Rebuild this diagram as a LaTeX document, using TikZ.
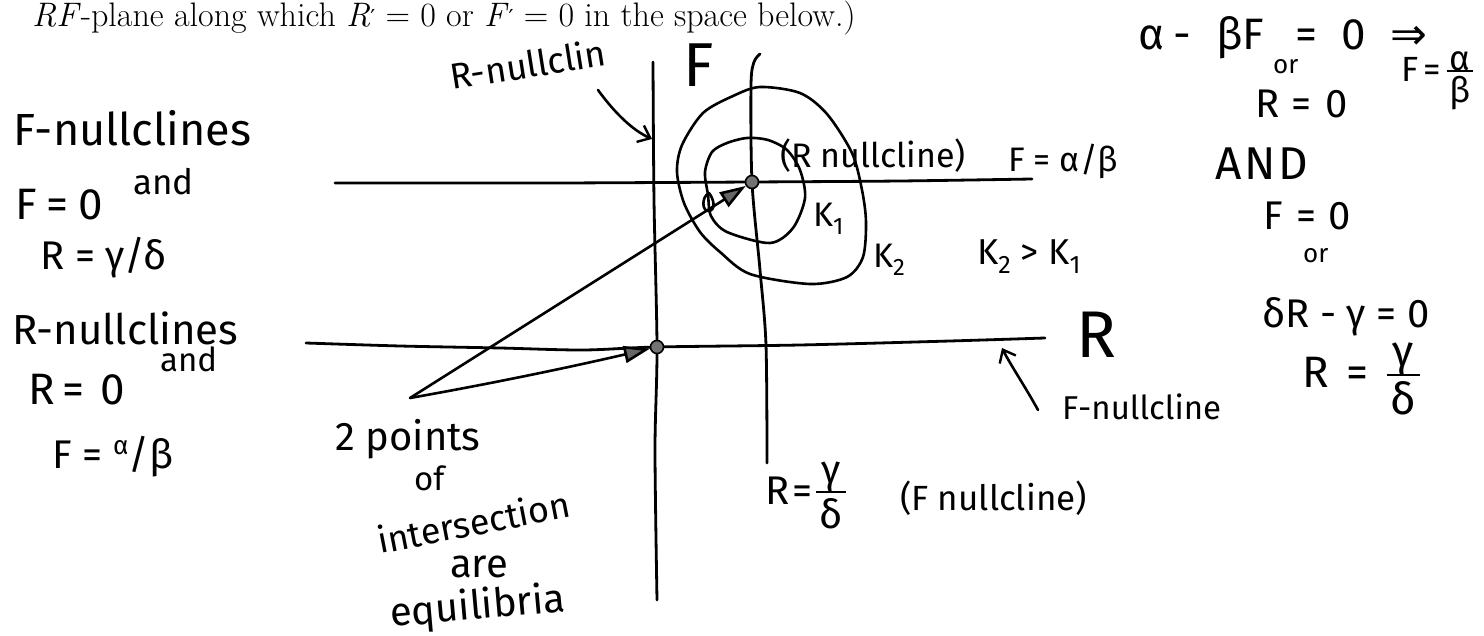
\documentclass[tikz,border=0pt]{standalone}
\usepackage{fontspec}
\newfontfamily\hand{Fira Sans}
\newfontfamily\sym{DejaVu Sans}
\newfontfamily\symserif{DejaVu Serif}
\usetikzlibrary{arrows.meta}
\newcommand{\hsz}[1]{\fontsize{#1}{#1}\selectfont\hand}
\newcommand{\hfrac}[2]{\raisebox{-0.6em}{\shortstack[c]{#1\\[-0.12em]\rule{0.75em}{2.2pt}\\[0.05em]#2}}}
\newcommand{\pr}{\raisebox{0.05em}{\symserif\fontsize{22}{22}\selectfont ′}}
\tikzset{
  pen/.style={line width=2.6pt, line cap=round, line join=round},
  axisline/.style={line width=2.8pt, line cap=round, line join=round},
  hw/.style={inner sep=0pt, anchor=base west},
  eqpt/.style={circle, draw, line width=1.6pt, fill=black!55, minimum size=13pt, inner sep=0pt},
  barb/.style={-{Straight Barb[length=11pt,width=18pt,line width=2.4pt]}},
  solidtip/.style={-{Triangle[length=26pt,width=17pt,fill=black!60]}},
}
\begin{document}
\begin{tikzpicture}[x=1pt,y=-1pt]
\useasboundingbox (0,0) rectangle (1484,636);
\fill[white] (0,0) rectangle (1484,636);

% printed header
\node[hw, font=\fontsize{34}{40}\selectfont] (hdr) at (32,27)
  {\textit{RF}-plane along which \textit{R}\pr\ = 0 or \textit{F}\pr\ = 0 in the space below.)};

% axes and nullclines
\draw[axisline] plot[smooth] coordinates {(653,62) (654,200) (657,347) (655,450) (657,600)};
\draw[axisline] plot[smooth] coordinates {(306,343) (400,346) (500,348) (583,350) (657,347) (800,345) (950,341) (1045,338)};
\draw[axisline] plot[smooth] coordinates {(335,183) (450,183) (560,183) (752,182) (900,181) (1032,179)};
\draw[axisline] plot[smooth] coordinates {(760,54) (754,62) (751,85) (752,182) (760,270) (766,345) (767,463)};

% equilibria
\node[eqpt] (E1) at (752,182) {};
\node[eqpt] (E0) at (657,347) {};

% level curves
\draw[pen] plot[smooth cycle] coordinates {(703,113) (682,145) (677,172) (684,203) (700,232) (720,252) (750,274) (810,284) (847,277) (863,257) (866,222) (862,190) (852,153) (827,114) (800,93) (760,87) (733,96)};
\draw[pen] plot[smooth cycle] coordinates {(712,152) (705,172) (708,195) (711,216) (727,232) (770,243) (793,228) (805,198) (800,170) (787,150) (768,140) (747,138) (727,143)};
\draw[pen] (709,193) .. controls (701,197) and (702,212) .. (709,211) .. controls (716,210) and (714,199) .. (709,193);

% arrows from the note
\coordinate (V) at (410,398);
\draw[pen, solidtip] (V) -- (E1);
\draw[pen, solidtip] (V) .. controls (500,382) and (575,366) .. (E0);

% labels: left column
\node[hw, font=\hsz{45}] (fn) at (13,146) {F-nullclines};
\node[hw, font=\hsz{44}] (fz) at (15,220) {F\hspace{10pt}=\hspace{10pt}0};
\node[hw, font=\hsz{35}] (fza) at (133,195) {and};
\node[hw, font=\hsz{40}] (rg) at (40,270) {R = γ/δ};
\node[hw, font=\hsz{42}] (rn) at (12,345) {R-nullclines};
\node[hw, font=\hsz{44}] (rz) at (28,405) {R\hspace{8pt}=\hspace{16pt}0};
\node[hw, font=\hsz{33}] (rza) at (160,372) {and};
\node[hw, font=\hsz{40}] (fab) at (52,468) {F = \raisebox{0.35em}{\fontsize{26}{26}\selectfont α}/β};

% axis labels
\node[hw, font=\hsz{62}] (Flab) at (683,87) {F};
\node[hw, font=\hsz{66}] (Rlab) at (1076,358) {R};

% R-nullcline label with arrow
\node[hw, font=\hsz{36}, rotate=9] (rnl) at (452,90) {R-nullclin};
\coordinate (rnA) at (598,90);
\draw[pen, barb] (rnA) .. controls (614,112) and (632,130) .. (652,139);

% labels near the equilibrium
\node[hw, font=\hsz{34}] (rnc) at (780,168) {(R nullcline)};
\node[hw, font=\hsz{34}] (fab2) at (1008,172) {F = α/β};
\node[hw, font=\hsz{34}] (k1) at (813,227) {K\textsubscript{1}};
\node[hw, font=\hsz{34}] (k2) at (873,268) {K\textsubscript{2}};
\node[hw, font=\hsz{36}] (k21) at (977,265) {K\textsubscript{2} > K\textsubscript{1}};

% F-nullcline label with arrow
\node[hw, font=\hsz{33}] (fnl) at (1062,420) {F-nullcline};
\coordinate (fnA) at (1038,410);
\draw[pen, barb] (fnA) .. controls (1026,388) and (1010,364) .. (1002,348);

% R = gamma/delta under vertical line
\node[hw, font=\hsz{40}] (rgd) at (765,504) {R\hspace{3pt}=\hspace{4pt}\hfrac{γ}{δ}};
\node[hw, font=\hsz{35}] (fncl) at (900,510) {(F nullcline)};

% bottom-left note
\node[hw, font=\hsz{40}] (pts) at (335,450) {2 points};
\node[hw, font=\hsz{33}] (of) at (414,490) {of};
\node[hw, font=\hsz{36}, rotate=11] (inter) at (380,554) {intersection};
\node[hw, font=\hsz{40}] (are) at (450,577) {are};
\node[hw, font=\hsz{40}, rotate=5] (equ) at (391,627) {equilibria};

% right column
\node[hw, font=\hsz{44}] (eq1) at (1138,50)
  {\makebox[35pt][l]{α}\makebox[43pt][l]{-}\makebox[79pt][l]{βF}\makebox[46pt][l]{=}\makebox[49pt][l]{0}{\sym ⇒}};
\node[hw, font=\hsz{26}] (or1) at (1273,74) {or};
\node[hw, font=\hsz{35}] (fab3) at (1401,82) {F\hspace{5pt}=\hspace{6pt}\hfrac{α}{β}};
\node[hw, font=\hsz{40}] (rz2) at (1255,118) {R\hspace{12pt}=\hspace{14pt}0};
\node[hw, font=\hsz{46}] (and) at (1215,180) {A\hspace{3pt}N\hspace{3pt}D};
\node[hw, font=\hsz{40}] (fz2) at (1263,230) {F\hspace{14pt}=\hspace{12pt}0};
\node[hw, font=\hsz{26}] (or2) at (1303,263) {or};
\node[hw, font=\hsz{40}] (dr) at (1262,328) {δR - γ = 0};
\node[hw, font=\hsz{44}] (rgd2) at (1302,388) {R\hspace{18pt}=\hspace{18pt}\hfrac{γ}{δ}};
\end{tikzpicture}
\end{document}
